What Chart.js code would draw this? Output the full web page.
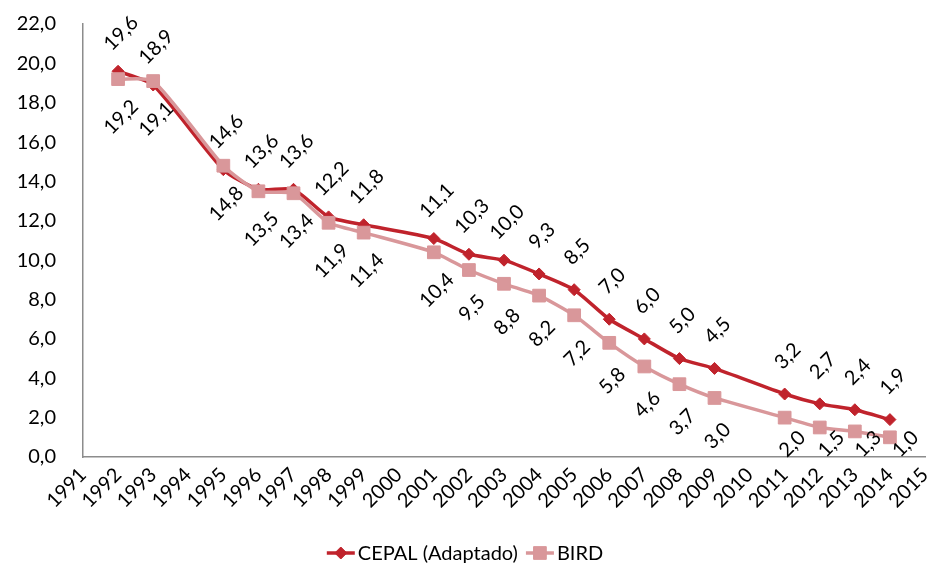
<!DOCTYPE html>
<html lang="es">
<head>
<meta charset="utf-8">
<title>CEPAL (Adaptado) y BIRD</title>
<script src="https://cdn.jsdelivr.net/npm/chart.js@4.4.1/dist/chart.umd.min.js"></script>
<style>
    html, body { margin: 0; padding: 0; background: #fff; }
    #wrap { width: 930px; height: 568px; position: relative; }
</style>
</head>
<body>
<div id="wrap"><canvas id="serieChart" width="930" height="568"></canvas></div>
<script>
// años del eje (los años sin dato quedan en null)
const years = ['1991', '1992', '1993', '1994', '1995', '1996', '1997', '1998', '1999', '2000',
    '2001', '2002', '2003', '2004', '2005', '2006', '2007', '2008', '2009', '2010',
    '2011', '2012', '2013', '2014', '2015'];

const cepal = [null, 19.6, 18.9, null, 14.6, 13.6, 13.6, 12.2, 11.8, null,
    11.1, 10.3, 10.0, 9.3, 8.5, 7.0, 6.0, 5.0, 4.5, null,
    3.2, 2.7, 2.4, 1.9, null];

const bird = [null, 19.2, 19.1, null, 14.8, 13.5, 13.4, 11.9, 11.4, null,
    10.4, 9.5, 8.8, 8.2, 7.2, 5.8, 4.6, 3.7, 3.0, null,
    2.0, 1.5, 1.3, 1.0, null];

const yTicks = { min: 0, max: 22, step: 2 };

const FONT = 'Lato, "Open Sans", sans-serif';
const FONT_SIZE = 20;
const COLOR_CEPAL = '#C0232C';
const COLOR_BIRD = '#D9979A';

const fmt = v => v.toFixed(1).replace('.', ',');

// el eje x llega casi hasta el borde derecho (las etiquetas giradas no lo necesitan)
const stretchX = {
    id: 'stretchX',
    afterLayout(chart) {
        const xs = chart.scales.x;
        const right = chart.width - 5;
        chart.chartArea.right = right;
        chart.chartArea.width = right - chart.chartArea.left;
        xs.right = right;
        xs.width = right - xs.left;
        xs.configure();
    }
};

// etiquetas de valor giradas 45 grados (arriba para CEPAL, abajo para BIRD);
// las de abajo no pasan del eje x, se corren a la derecha si chocan
const valueLabels = {
    id: 'valueLabels',
    afterDatasetsDraw(chart) {
        const ctx = chart.ctx;
        const maxY = chart.chartArea.bottom - 13;
        ctx.save();
        ctx.font = FONT_SIZE + 'px ' + FONT;
        ctx.fillStyle = '#000';
        ctx.textAlign = 'center';
        ctx.textBaseline = 'middle';
        chart.data.datasets.forEach((ds, i) => {
            const meta = chart.getDatasetMeta(i);
            const dy = ds.labelPos === 'above' ? -38 : 38;
            meta.data.forEach((pt, j) => {
                const v = ds.data[j];
                if (v === null || v === undefined) return;
                let x = pt.x + 3;
                let y = pt.y + dy;
                if (y > maxY) {
                    x += (y - maxY) * 0.4;
                    y = maxY;
                }
                ctx.save();
                ctx.translate(x, y);
                ctx.rotate(-Math.PI / 4);
                ctx.fillText(fmt(v), 0, 0);
                ctx.restore();
            });
        });
        ctx.restore();
    }
};

// leyenda inferior con línea y marcador
const bottomLegend = {
    id: 'bottomLegend',
    afterDraw(chart) {
        const ctx = chart.ctx;
        const y = 553;
        const lineW = 28;
        const gap = 3;
        const sep = 8;
        ctx.save();
        ctx.font = FONT_SIZE + 'px ' + FONT;
        ctx.textBaseline = 'middle';
        const items = chart.data.datasets.map(ds => ({
            text: ds.label, color: ds.borderColor, style: ds.pointStyle, r: ds.pointRadius,
            w: lineW + gap + ctx.measureText(ds.label).width
        }));
        const total = items.reduce((s, it) => s + it.w, 0) + sep * (items.length - 1);
        let x = (chart.width - total) / 2;
        items.forEach(it => {
            ctx.strokeStyle = it.color;
            ctx.lineWidth = 3.5;
            ctx.beginPath();
            ctx.moveTo(x, y);
            ctx.lineTo(x + lineW, y);
            ctx.stroke();
            ctx.fillStyle = it.color;
            ctx.lineWidth = 1;
            Chart.helpers.drawPoint(ctx, { pointStyle: it.style, radius: it.r, borderWidth: 1 }, x + lineW / 2, y);
            ctx.fillStyle = '#000';
            ctx.fillText(it.text, x + lineW + gap, y + 1);
            x += it.w + sep;
        });
        ctx.restore();
    }
};

const ctx = document.getElementById('serieChart').getContext('2d');

new Chart(ctx, {
    type: 'line',
    data: {
        labels: years,
        datasets: [
            {
                label: 'CEPAL (Adaptado)',
                data: cepal,
                borderColor: COLOR_CEPAL,
                backgroundColor: COLOR_CEPAL,
                borderWidth: 3.5,
                pointStyle: 'rectRot',
                pointRadius: 6,
                pointBorderWidth: 1,
                tension: 0.2,
                spanGaps: true,
                labelPos: 'above',
                order: 1
            },
            {
                label: 'BIRD',
                data: bird,
                borderColor: COLOR_BIRD,
                backgroundColor: COLOR_BIRD,
                borderWidth: 3.5,
                pointStyle: 'rect',
                pointRadius: 9,
                pointBorderWidth: 1,
                tension: 0.2,
                spanGaps: true,
                labelPos: 'below',
                order: 0
            }
        ]
    },
    options: {
        responsive: false,
        animation: false,
        devicePixelRatio: 1,
        layout: { padding: { top: 24, right: 0, bottom: 0, left: 0 } },
        scales: {
            x: {
                type: 'category',
                offset: false,
                grid: { display: false, drawTicks: false },
                border: { display: true, color: '#8C8C8C', width: 1.5 },
                ticks: {
                    autoSkip: false,
                    maxRotation: 45,
                    minRotation: 45,
                    padding: 6,
                    color: '#000',
                    font: { family: FONT, size: FONT_SIZE }
                },
                afterFit(scale) {
                    scale.height = 111;
                    scale.paddingLeft = 0;
                    scale.paddingRight = 0;
                }
            },
            y: {
                min: yTicks.min,
                max: yTicks.max,
                grid: { display: false, drawTicks: false },
                border: { display: true, color: '#8C8C8C', width: 1.5 },
                ticks: {
                    stepSize: yTicks.step,
                    padding: 27,
                    color: '#000',
                    font: { family: FONT, size: FONT_SIZE },
                    callback: v => fmt(v)
                },
                afterFit(scale) {
                    scale.width = 83;
                    scale.paddingTop = 0;
                    scale.paddingBottom = 0;
                }
            }
        },
        plugins: {
            legend: { display: false },
            tooltip: { enabled: false }
        }
    },
    plugins: [stretchX, valueLabels, bottomLegend]
});
</script>
</body>
</html>
